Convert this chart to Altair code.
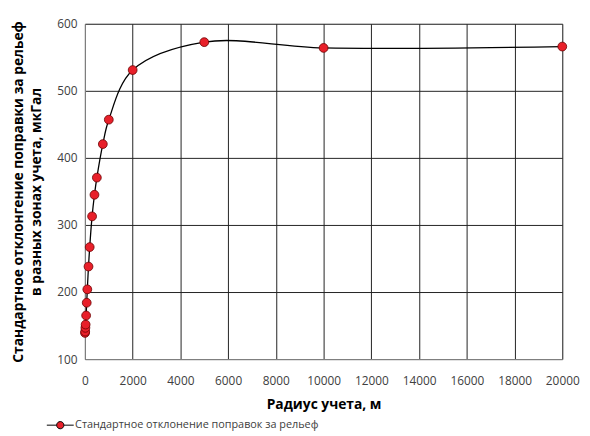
import altair as alt
import pandas as pd

radius = [5, 10, 20, 30, 50, 75, 100, 150, 200, 300, 400, 500, 750, 1000, 2000, 5000, 10000, 20000]
std_dev = [139, 141, 146.6, 151.5, 165, 184, 204, 238, 267, 312.8, 345, 370.6, 420.6, 457, 531, 572.6, 564, 566]
series_name = "Стандартное отклонение поправок за рельеф"
x_ticks = list(range(0, 20001, 2000))
y_ticks = [100, 200, 300, 400, 500, 600]

df = pd.DataFrame({"r": radius, "s": std_dev, "series": series_name})

FONT = "Open Sans"

x_enc = alt.X("r:Q", scale=alt.Scale(domain=[0, 20000], nice=False),
              axis=alt.Axis(values=x_ticks, title="Радиус учета, м", format="d",
                            titleFontSize=14, titleFontWeight="bold", titleColor="black",
                            titlePadding=11, labelFontSize=12, labelColor="#404040",
                            labelPadding=17, ticks=False, domainColor="#888888",
                            gridColor="#222222", gridWidth=1, labelFlush=False))
y_enc = alt.Y("s:Q", scale=alt.Scale(domain=[100, 600], nice=False),
              axis=alt.Axis(values=y_ticks,
                            title=["Стандартное отклонгение поправки за рельеф",
                                   "в разных зонах учета, мкГал"],
                            titleFontSize=14, titleFontWeight="bold", titleColor="black",
                            titleLineHeight=19,
                            titlePadding=13, labelFontSize=12, labelColor="#404040",
                            labelPadding=8, ticks=False, domainColor="#888888",
                            gridColor="#222222", gridWidth=1))

line = alt.Chart(df).mark_line(interpolate="catmull-rom", color="black", strokeWidth=1.3).encode(
    x=x_enc, y=y_enc)

legend_symbol = "M-2.6,0H-0.7M0.7,0H2.6M0.7,0A0.7,0.7,0,1,1,-0.7,0A0.7,0.7,0,1,1,0.7,0Z"

points = alt.Chart(df).mark_point(filled=True, size=80, opacity=1, stroke="#6b0000",
                                  strokeWidth=0.8).encode(
    x="r:Q", y="s:Q",
    fill=alt.Fill("series:N", scale=alt.Scale(range=["#E8202A"]),
                  legend=alt.Legend(orient="none", legendX=-31, legendY=401, title=None,
                                    symbolType=legend_symbol, symbolSize=110,
                                    symbolStrokeColor="black", symbolStrokeWidth=1,
                                    labelOffset=9,
                                    labelFontSize=11, labelColor="#404040", labelFont=FONT,
                                    labelLimit=400)))

chart = alt.layer(line, points).properties(
    width=484, height=340,
    padding={"left": 78, "top": 13, "right": 20, "bottom": 75},
    autosize=alt.AutoSizeParams(type="none"),
).configure_view(stroke="#555555", strokeWidth=1).configure(font=FONT)

chart.save("out.html", embed_options={"renderer": "svg", "actions": False})
